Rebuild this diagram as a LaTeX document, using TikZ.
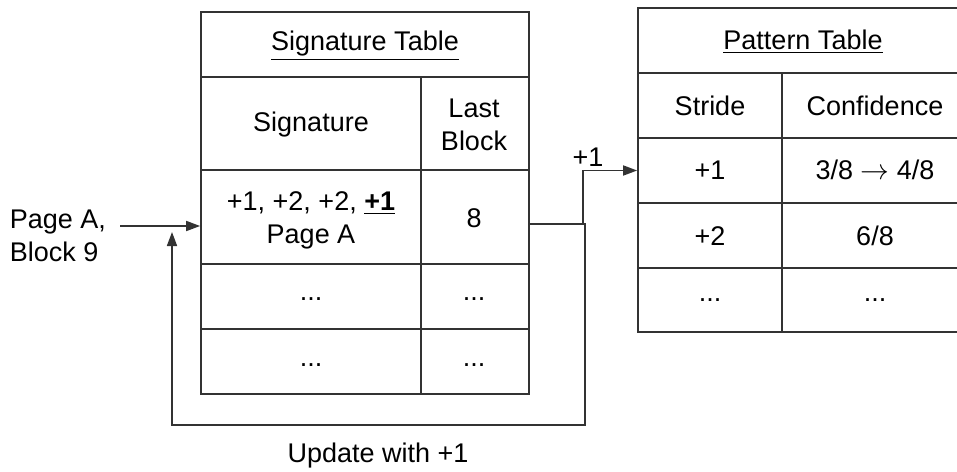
\documentclass[tikz,border=0pt]{standalone}
\usepackage{fontspec}
\setmainfont{Liberation Sans}
\usetikzlibrary{fit,arrows.meta}
\begin{document}
\begin{tikzpicture}[x=0.5pt,y=-0.5pt,
  every node/.style={font=\fontsize{13.5}{16.5}\selectfont, text=black},
  cellbox/.style={draw=black!80, line width=0.85pt, inner sep=0pt, align=center},
  txt/.style={inner sep=0pt, align=center},
  wire/.style={draw=black!80, line width=0.85pt},
  arr/.style={wire, -{Triangle[length=7pt,width=5pt]}}]
\useasboundingbox (0,0) rectangle (957,471);

% Signature table
\node (sigT) [cellbox, fit={(201,12) (529,77)}] {};
\node (sigH1) [cellbox, fit={(201,77) (421,170)}] {};
\node (sigH2) [cellbox, fit={(421,77) (529,170)}] {};
\node (sigA1) [cellbox, fit={(201,170) (421,264)}] {};
\node (sigA2) [cellbox, fit={(421,170) (529,264)}] {};
\node (sigB1) [cellbox, fit={(201,264) (421,329)}] {};
\node (sigB2) [cellbox, fit={(421,264) (529,329)}] {};
\node (sigC1) [cellbox, fit={(201,329) (421,394)}] {};
\node (sigC2) [cellbox, fit={(421,329) (529,394)}] {};

\node[txt] (sigTt) at (365,46) {\underline{Signature Table}};
\node[txt] (sigH1t) at (311,125) {Signature};
\node[txt] (sigH2t) at (474,125) {Last\\Block};
\node[txt] (sigA1t) at (311,220) {+1, +2, +2, \underline{\textbf{+1}}\\Page A};
\node[txt] (sigA2t) at (474,218) {8};
\node[txt] (sigB1t) at (311,299) {...};
\node[txt] (sigB2t) at (474,299) {...};
\node[txt] (sigC1t) at (311,365) {...};
\node[txt] (sigC2t) at (474,365) {...};

% Pattern table (right border lies past the edge)
\node (patT) [cellbox, fit={(638,8) (962,73)}] {};
\node (patH1) [cellbox, fit={(638,73) (782,138)}] {};
\node (patH2) [cellbox, fit={(782,73) (962,138)}] {};
\node (patA1) [cellbox, fit={(638,138) (782,203)}] {};
\node (patA2) [cellbox, fit={(782,138) (962,203)}] {};
\node (patB1) [cellbox, fit={(638,203) (782,268)}] {};
\node (patB2) [cellbox, fit={(782,203) (962,268)}] {};
\node (patC1) [cellbox, fit={(638,268) (782,332)}] {};
\node (patC2) [cellbox, fit={(782,268) (962,332)}] {};

\node[txt] (patTt) at (803,42) {\underline{Pattern Table}};
\node[txt] (patH1t) at (710,106) {Stride};
\node[txt] (patH2t) at (875,106) {Confidence};
\node[txt] (patA1t) at (710,170) {+1};
\node[txt] (patA2t) at (875,170) {3/8 $\rightarrow$ 4/8};
\node[txt] (patB1t) at (710,236) {+2};
\node[txt] (patB2t) at (875,236) {6/8};
\node[txt] (patC1t) at (710,300) {...};
\node[txt] (patC2t) at (875,300) {...};

% Input access
\node[txt, align=left] (access) at (58,236) {Page A,\\Block 9};
\coordinate (inStart) at (120,226);
\draw[arr] (inStart) -- (inStart -| sigA1.west);

% Stride lookup and update loop
\coordinate (fork) at (583,224);
\coordinate (forkDown) at (585,224);
\coordinate (loopCorner) at (172,425);
\coordinate (loopTip) at (172,232);
\draw[arr] (sigA2.east |- fork) -- (fork) |- (patA1.west);
\draw[arr] (fork) -- (forkDown) |- (loopCorner) -- (loopTip);
\node[txt] (plusOne) at (588,157) {+1};
\node[txt] (update) at (378,456) {Update with +1};
\end{tikzpicture}
\end{document}
